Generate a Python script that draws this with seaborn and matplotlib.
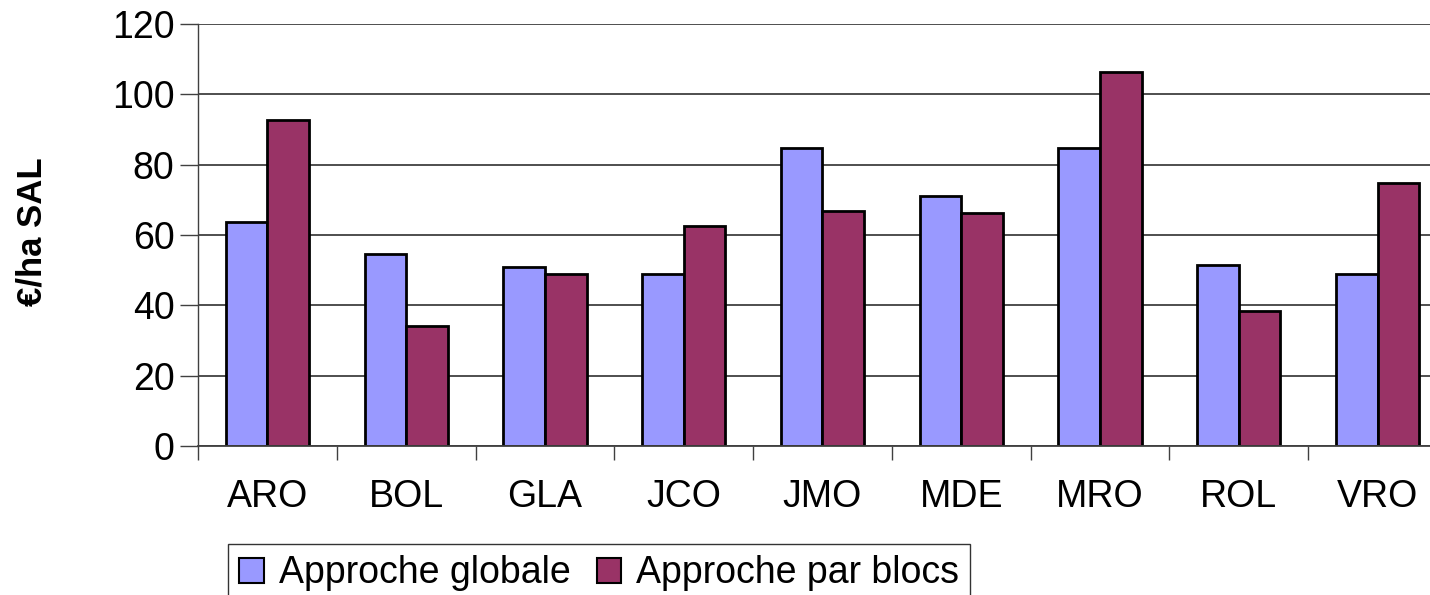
import matplotlib
matplotlib.use("Agg")
import matplotlib.pyplot as plt
import seaborn as sns
import pandas as pd
from matplotlib.ticker import FixedLocator

categories = ["ARO", "BOL", "GLA", "JCO", "JMO", "MDE", "MRO", "ROL", "VRO"]
globale = [63.6, 54.5, 50.8, 48.9, 84.6, 71.1, 84.6, 51.4, 48.9]
blocs = [92.7, 34.1, 48.9, 62.6, 66.7, 66.2, 106.3, 38.4, 74.8]
series_names = ["Approche globale", "Approche par blocs"]
colors = ["#9999FF", "#993366"]
y_ticks = [0, 20, 40, 60, 80, 100, 120]
y_label = "€/ha SAL"

df = pd.DataFrame({
    "cat": categories * 2,
    "val": globale + blocs,
    "serie": [series_names[0]] * len(categories) + [series_names[1]] * len(categories),
})

sns.set_theme(style="white")
plt.rcParams["font.family"] = ["Liberation Sans", "DejaVu Sans"]
plt.rcParams["text.color"] = "black"
plt.rcParams["xtick.color"] = "black"
plt.rcParams["ytick.color"] = "black"

fig = plt.figure(figsize=(14.3, 5.95), dpi=100)
ax = fig.add_axes([198 / 1430, 1 - 446 / 595, (1447 - 198) / 1430, (446 - 24) / 595])

sns.barplot(data=df, x="cat", y="val", hue="serie", order=categories,
            hue_order=series_names, palette=colors, width=0.6, gap=0,
            edgecolor="black", linewidth=2, saturation=1, ax=ax, errorbar=None)

ax.set_ylim(0, 120)
ax.set_xlim(-0.5, len(categories) - 0.5)
ax.set_yticks(y_ticks)
ax.set_yticklabels([str(v) for v in y_ticks], fontsize=27)
ax.yaxis.grid(True, color="#404040", linewidth=1.3)
ax.set_axisbelow(True)

ax.xaxis.set_minor_locator(FixedLocator([i - 0.5 for i in range(len(categories) + 1)]))
ax.tick_params(axis="x", which="major", length=0, pad=24, labelsize=27, labelcolor="black")
ax.tick_params(axis="x", which="minor", length=10, width=1, color="#404040", direction="out", bottom=True)
ax.tick_params(axis="y", which="major", length=13, width=1, color="#404040", direction="out", pad=4,
               left=True, labelcolor="black")

for s in ["top", "right"]:
    ax.spines[s].set_visible(False)
ax.spines["left"].set_color("#404040")
ax.spines["left"].set_linewidth(1)
ax.spines["bottom"].set_color("#404040")
ax.spines["bottom"].set_linewidth(1.3)

ax.set_xlabel("")
ax.set_ylabel("")
fig.text(32 / 1430, 1 - 232 / 595, y_label, rotation=90, fontsize=25, fontweight="bold",
         ha="center", va="center", color="black")

if ax.get_legend() is not None:
    ax.get_legend().remove()
handles = [plt.Rectangle((0, 0), 1, 1, facecolor=c, edgecolor="black", linewidth=1.5) for c in colors]
leg = fig.legend(handles, series_names, loc="upper left", bbox_to_anchor=(228 / 1430, 1 - 544 / 595),
                 ncol=2, fontsize=27, frameon=True, fancybox=False, edgecolor="black",
                 handlelength=0.65, handleheight=0.65, handletextpad=0.4, columnspacing=0.7,
                 borderpad=0.3, borderaxespad=0)
leg.get_frame().set_linewidth(1)
for t in leg.get_texts():
    t.set_color("black")

fig.savefig("out.png", dpi=100)
